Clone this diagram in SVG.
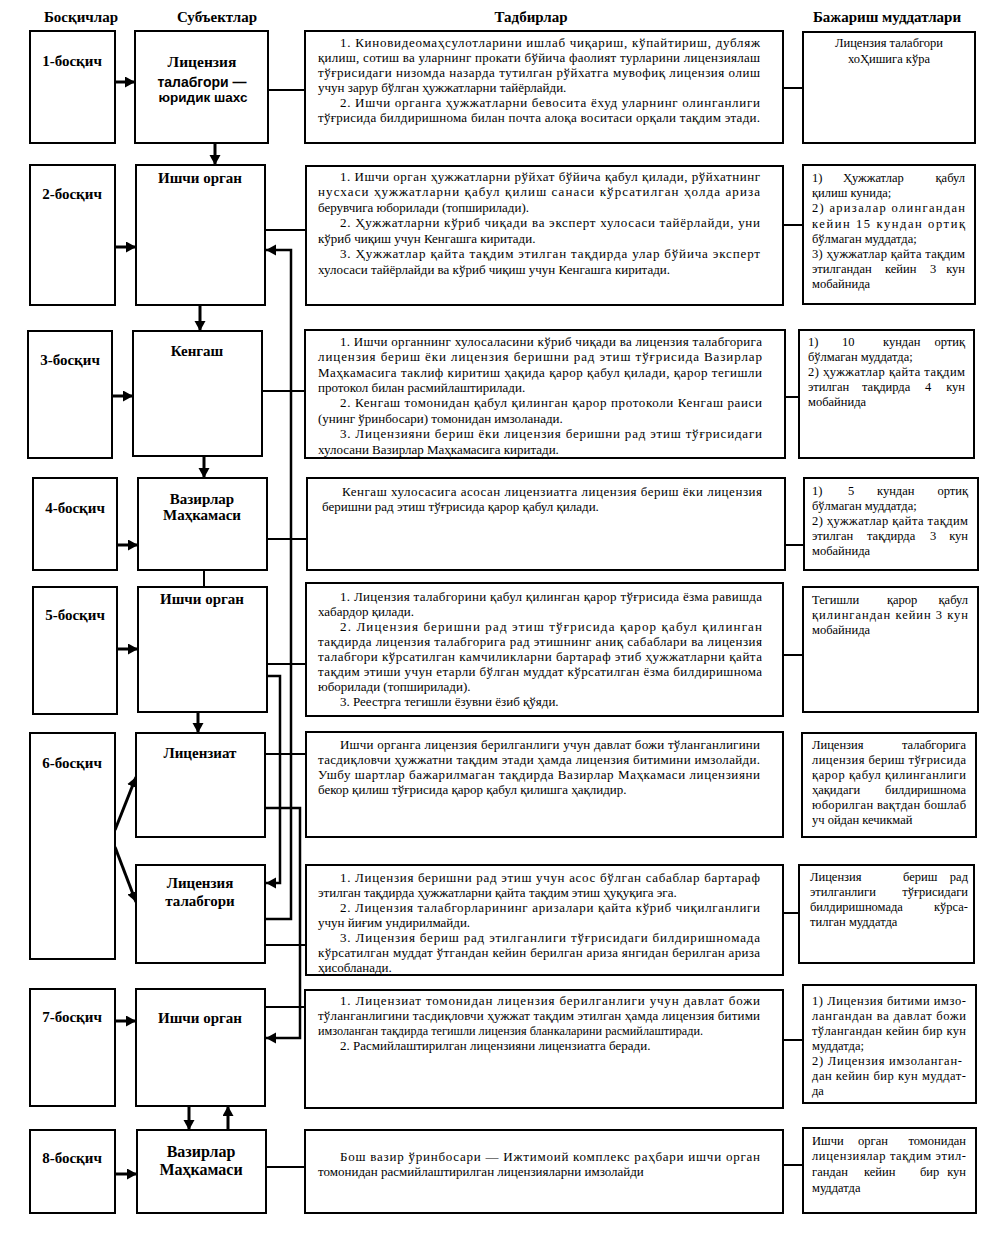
<svg xmlns="http://www.w3.org/2000/svg" width="999" height="1241" viewBox="0 0 999 1241">
<style>
.box{fill:#fff;stroke:#000;stroke-width:2}
.ln{stroke:#000;stroke-width:2;fill:none}
.ar{stroke:#000;stroke-width:3;fill:none;marker-end:url(#ah)}
.ar2{stroke:#000;stroke-width:2.5;fill:none;marker-end:url(#ah)}
.t{font-family:"Liberation Serif","Times New Roman",serif;font-size:13px;fill:#000}
.r{font-family:"Liberation Serif","Times New Roman",serif;font-size:12.5px;fill:#000}
.h{font-family:"Liberation Serif","Times New Roman",serif;font-size:15px;font-weight:bold;fill:#000;text-anchor:middle}
.s{font-family:"Liberation Sans",Arial,sans-serif;font-size:13.5px;font-weight:bold;fill:#000;text-anchor:middle}
.e{text-anchor:end}
.m{text-anchor:middle}
</style>
<defs>
<marker id="ah" markerUnits="userSpaceOnUse" markerWidth="12" markerHeight="12" refX="10" refY="5.5" orient="auto">
<path d="M0,0 L10,5.5 L0,11 z" fill="#000"/>
</marker>
</defs>
<rect width="999" height="1241" fill="#fff"/>

<g id="headers">
<text class="h" x="81" y="22">Босқичлар</text>
<text class="h" x="217" y="22">Субъектлар</text>
<text class="h" x="531" y="22">Тадбирлар</text>
<text class="h" x="887" y="22">Бажариш муддатлари</text>
</g>

<g id="connectors">
<line class="ar" x1="115" y1="82" x2="135" y2="82"/>
<line class="ar" x1="115" y1="247" x2="136" y2="247"/>
<line class="ar" x1="112" y1="396" x2="133" y2="396"/>
<line class="ar" x1="117" y1="545" x2="138" y2="545"/>
<line class="ar" x1="117" y1="649" x2="138" y2="649"/>
<line class="ar" x1="115" y1="830" x2="136" y2="777"/>
<line class="ar" x1="115" y1="847" x2="136" y2="902"/>
<line class="ar" x1="115" y1="1021" x2="136" y2="1021"/>
<line class="ar" x1="115" y1="1174" x2="137" y2="1174"/>

<line class="ar" x1="215" y1="143" x2="215" y2="165"/>
<line class="ar" x1="200" y1="305" x2="200" y2="331"/>
<line class="ar" x1="204" y1="456" x2="204" y2="478"/>
<line class="ln" x1="204" y1="570" x2="204" y2="587"/>
<line class="ar" x1="198" y1="712" x2="198" y2="733"/>
<line class="ar" x1="189" y1="1106" x2="189" y2="1130"/>
<line class="ar" x1="228" y1="1130" x2="228" y2="1106"/>

<line class="ln" x1="268" y1="90" x2="305" y2="90"/>
<line class="ln" x1="265" y1="230" x2="306" y2="230"/>
<line class="ln" x1="262" y1="391" x2="305" y2="391"/>
<line class="ln" x1="267" y1="539" x2="307" y2="539"/>
<line class="ln" x1="267" y1="664" x2="306" y2="664"/>
<line class="ln" x1="265" y1="754" x2="306" y2="754"/>
<line class="ln" x1="265" y1="945" x2="306" y2="945"/>
<line class="ln" x1="265" y1="1007" x2="305" y2="1007"/>
<line class="ln" x1="266" y1="1167" x2="305" y2="1167"/>

<line class="ln" x1="783" y1="88" x2="803" y2="88"/>
<line class="ln" x1="783" y1="225" x2="803" y2="225"/>
<line class="ln" x1="785" y1="397" x2="799" y2="397"/>
<line class="ln" x1="785" y1="545" x2="804" y2="545"/>
<line class="ln" x1="783" y1="655" x2="803" y2="655"/>
<line class="ln" x1="783" y1="913" x2="799" y2="913"/>
<line class="ln" x1="783" y1="1040" x2="803" y2="1040"/>
<line class="ln" x1="783" y1="1165" x2="803" y2="1165"/>

<polyline class="ar2" points="267,676 280,676 280,883 266,883"/>
<polyline class="ar2" points="265,919 291,919 291,250 266,250"/>
<polyline class="ar2" points="265,808 300,808 300,1038 266,1038"/>
</g>

<g id="stage1"><rect class="box" x="30" y="31" width="85" height="112"/><text class="h" x="72" y="66">1-босқич</text></g>
<g id="stage2"><rect class="box" x="30" y="165" width="85" height="140"/><text class="h" x="72" y="199">2-босқич</text></g>
<g id="stage3"><rect class="box" x="28" y="331" width="84" height="127"/><text class="h" x="70" y="365">3-босқич</text></g>
<g id="stage4"><rect class="box" x="33" y="478" width="84" height="92"/><text class="h" x="75" y="513">4-босқич</text></g>
<g id="stage5"><rect class="box" x="33" y="587" width="84" height="127"/><text class="h" x="75" y="620">5-босқич</text></g>
<g id="stage6"><rect class="box" x="30" y="733" width="85" height="226"/><text class="h" x="72" y="768">6-босқич</text></g>
<g id="stage7"><rect class="box" x="30" y="989" width="85" height="117"/><text class="h" x="72" y="1022">7-босқич</text></g>
<g id="stage8"><rect class="box" x="30" y="1130" width="85" height="83"/><text class="h" x="72" y="1163">8-босқич</text></g>

<g id="subj1"><rect class="box" x="135" y="31" width="133" height="112"/>
<text class="h" x="202" y="67" style="font-size:15.5px">Лицензия</text>
<text class="s" x="202" y="87" style="font-size:14px">талабгори —</text>
<text class="s" x="203" y="102">юридик шахс</text></g>
<g id="subj2"><rect class="box" x="136" y="165" width="129" height="140"/><text class="h" x="200" y="183">Ишчи орган</text></g>
<g id="subj3"><rect class="box" x="133" y="331" width="129" height="125"/><text class="h" x="197" y="356">Кенгаш</text></g>
<g id="subj4"><rect class="box" x="138" y="478" width="129" height="92"/><text class="h" x="202" y="504">Вазирлар</text><text class="h" x="202" y="520">Маҳкамаси</text></g>
<g id="subj5"><rect class="box" x="138" y="587" width="129" height="125"/><text class="h" x="202" y="604">Ишчи орган</text></g>
<g id="subj6a"><rect class="box" x="136" y="733" width="129" height="104"/><text class="h" x="200" y="758">Лицензиат</text></g>
<g id="subj6b"><rect class="box" x="136" y="865" width="129" height="98"/><text class="h" x="200" y="888">Лицензия</text><text class="h" x="200" y="906">талабгори</text></g>
<g id="subj7"><rect class="box" x="136" y="989" width="129" height="117"/><text class="h" x="200" y="1023">Ишчи орган</text></g>
<g id="subj8"><rect class="box" x="137" y="1130" width="129" height="83"/><text class="h" x="201" y="1157" style="font-size:16px">Вазирлар</text><text class="h" x="201" y="1175" style="font-size:16px">Маҳкамаси</text></g>

<g id="act1"><rect class="box" x="305" y="31" width="478" height="112"/>
<text class="t" x="340" y="47" textLength="420" lengthAdjust="spacing">1. Киновидеомаҳсулотларини ишлаб чиқариш, кўпайтириш, дубляж</text>
<text class="t" x="318" y="62" textLength="442" lengthAdjust="spacing">қилиш, сотиш ва уларнинг прокати бўйича фаолият турларини лицензиялаш</text>
<text class="t" x="318" y="77" textLength="442" lengthAdjust="spacing">тўғрисидаги низомда назарда тутилган рўйхатга мувофиқ лицензия олиш</text>
<text class="t" x="318" y="92">учун зарур бўлган ҳужжатларни тайёрлайди.</text>
<text class="t" x="340" y="107" textLength="420" lengthAdjust="spacing">2. Ишчи органга ҳужжатларни бевосита ёхуд уларнинг олинганлиги</text>
<text class="t" x="318" y="122" textLength="442" lengthAdjust="spacing">тўғрисида билдиришнома билан почта алоқа воситаси орқали тақдим этади.</text>
</g>

<g id="act2"><rect class="box" x="306" y="166" width="477" height="139"/>
<text class="t" x="340" y="181" textLength="420" lengthAdjust="spacing">1. Ишчи орган ҳужжатларни рўйхат бўйича қабул қилади, рўйхатнинг</text>
<text class="t" x="318" y="196" textLength="442" lengthAdjust="spacing">нусхаси ҳужжатларни қабул қилиш санаси кўрсатилган ҳолда ариза</text>
<text class="t" x="318" y="212">берувчига юборилади (топширилади).</text>
<text class="t" x="340" y="227" textLength="420" lengthAdjust="spacing">2. Ҳужжатларни кўриб чиқади ва эксперт хулосаси тайёрлайди, уни</text>
<text class="t" x="318" y="243">кўриб чиқиш учун Кенгашга киритади.</text>
<text class="t" x="340" y="258" textLength="420" lengthAdjust="spacing">3. Ҳужжатлар қайта тақдим этилган тақдирда улар бўйича эксперт</text>
<text class="t" x="318" y="274">хулосаси тайёрлайди ва кўриб чиқиш учун Кенгашга киритади.</text>
</g>

<g id="act3"><rect class="box" x="305" y="330" width="480" height="128"/>
<text class="t" x="340" y="346" textLength="422" lengthAdjust="spacing">1. Ишчи органнинг хулосаласини кўриб чиқади ва лицензия талабгорига</text>
<text class="t" x="318" y="361" textLength="444" lengthAdjust="spacing">лицензия бериш ёки лицензия беришни рад этиш тўғрисида Вазирлар</text>
<text class="t" x="318" y="377" textLength="444" lengthAdjust="spacing">Маҳкамасига таклиф киритиш ҳақида қарор қабул қилади, қарор тегишли</text>
<text class="t" x="318" y="392">протокол билан расмийлаштирилади.</text>
<text class="t" x="340" y="407" textLength="422" lengthAdjust="spacing">2. Кенгаш томонидан қабул қилинган қарор протоколи Кенгаш раиси</text>
<text class="t" x="318" y="423">(унинг ўринбосари) томонидан имзоланади.</text>
<text class="t" x="340" y="438" textLength="422" lengthAdjust="spacing">3. Лицензияни бериш ёки лицензия беришни рад этиш тўғрисидаги</text>
<text class="t" x="318" y="454">хулосани Вазирлар Маҳкамасига киритади.</text>
</g>

<g id="act4"><rect class="box" x="307" y="478" width="478" height="92"/>
<text class="t" x="342" y="496" textLength="420" lengthAdjust="spacing">Кенгаш хулосасига асосан лицензиатга лицензия бериш ёки лицензия</text>
<text class="t" x="322" y="511">беришни рад этиш тўғрисида қарор қабул қилади.</text>
</g>

<g id="act5"><rect class="box" x="306" y="583" width="477" height="133"/>
<text class="t" x="340" y="601" textLength="422" lengthAdjust="spacing">1. Лицензия талабгорини қабул қилинган қарор тўғрисида ёзма равишда</text>
<text class="t" x="318" y="616">хабардор қилади.</text>
<text class="t" x="340" y="631" textLength="422" lengthAdjust="spacing">2. Лицензия беришни рад этиш тўғрисида қарор қабул қилинган</text>
<text class="t" x="318" y="646" textLength="444" lengthAdjust="spacing">тақдирда лицензия талабгорига рад этишнинг аниқ сабаблари ва лицензия</text>
<text class="t" x="318" y="661" textLength="444" lengthAdjust="spacing">талабгори кўрсатилган камчиликларни бартараф этиб ҳужжатларни қайта</text>
<text class="t" x="318" y="676" textLength="444" lengthAdjust="spacing">тақдим этиши учун етарли бўлган муддат кўрсатилган ёзма билдиришнома</text>
<text class="t" x="318" y="691">юборилади (топширилади).</text>
<text class="t" x="340" y="706">3. Реестрга тегишли ёзувни ёзиб қўяди.</text>
</g>

<g id="act6a"><rect class="box" x="306" y="732" width="477" height="105"/>
<text class="t" x="340" y="749" textLength="420" lengthAdjust="spacing">Ишчи органга лицензия берилганлиги учун давлат божи тўланганлигини</text>
<text class="t" x="318" y="764" textLength="442" lengthAdjust="spacing">тасдиқловчи ҳужжатни тақдим этади ҳамда лицензия битимини имзолайди.</text>
<text class="t" x="318" y="779" textLength="442" lengthAdjust="spacing">Ушбу шартлар бажарилмаган тақдирда Вазирлар Маҳкамаси лицензияни</text>
<text class="t" x="318" y="794">бекор қилиш тўғрисида қарор қабул қилишга ҳақлидир.</text>
</g>

<g id="act6b"><rect class="box" x="306" y="865" width="477" height="110"/>
<text class="t" x="340" y="882" textLength="420" lengthAdjust="spacing">1. Лицензия беришни рад этиш учун асос бўлган сабаблар бартараф</text>
<text class="t" x="318" y="897">этилган тақдирда ҳужжатларни қайта тақдим этиш ҳуқуқига эга.</text>
<text class="t" x="340" y="912" textLength="420" lengthAdjust="spacing">2. Лицензия талабгорларининг аризалари қайта кўриб чиқилганлиги</text>
<text class="t" x="318" y="927">учун йиғим ундирилмайди.</text>
<text class="t" x="340" y="942" textLength="420" lengthAdjust="spacing">3. Лицензия бериш рад этилганлиги тўғрисидаги билдиришномада</text>
<text class="t" x="318" y="957" textLength="442" lengthAdjust="spacing">кўрсатилган муддат ўтгандан кейин берилган ариза янгидан берилган ариза</text>
<text class="t" x="318" y="972">ҳисобланади.</text>
</g>

<g id="act7"><rect class="box" x="305" y="990" width="478" height="118"/>
<text class="t" x="340" y="1005" textLength="420" lengthAdjust="spacing">1. Лицензиат томонидан лицензия берилганлиги учун давлат божи</text>
<text class="t" x="318" y="1020" textLength="442" lengthAdjust="spacing">тўланганлигини тасдиқловчи ҳужжат тақдим этилган ҳамда лицензия битими</text>
<text class="t" x="318" y="1035" textLength="385" lengthAdjust="spacingAndGlyphs">имзоланган тақдирда тегишли лицензия бланкаларини расмийлаштиради.</text>
<text class="t" x="340" y="1050">2. Расмийлаштирилган лицензияни лицензиатга беради.</text>
</g>

<g id="act8"><rect class="box" x="305" y="1130" width="478" height="83"/>
<text class="t" x="340" y="1161" textLength="420" lengthAdjust="spacing">Бош вазир ўринбосари — Ижтимоий комплекс раҳбари ишчи орган</text>
<text class="t" x="318" y="1176">томонидан расмийлаштирилган лицензияларни имзолайди</text>
</g>

<g id="term1"><rect class="box" x="803" y="32" width="172" height="111"/>
<text class="r m" x="889" y="47">Лицензия талабгори</text>
<text class="r m" x="889" y="63">хоҲишига кўра</text>
</g>

<g id="term2"><rect class="box" x="803" y="165" width="172" height="139"/>
<text class="r" y="182"><tspan x="812">1)</tspan><tspan x="843">Ҳужжатлар</tspan><tspan x="965" class="e">қабул</tspan></text>
<text class="r" x="812" y="197">қилиш кунида;</text>
<text class="r" x="812" y="212" textLength="153" lengthAdjust="spacing">2) аризалар олингандан</text>
<text class="r" x="812" y="228" textLength="153" lengthAdjust="spacing">кейин 15 кундан ортиқ</text>
<text class="r" x="812" y="243">бўлмаган муддатда;</text>
<text class="r" x="812" y="258" textLength="153" lengthAdjust="spacing">3) ҳужжатлар қайта тақдим</text>
<text class="r" y="273"><tspan x="812">этилгандан</tspan><tspan x="885">кейин</tspan><tspan x="930">3</tspan><tspan x="965" class="e">кун</tspan></text>
<text class="r" x="812" y="288">мобайнида</text>
</g>

<g id="term3"><rect class="box" x="799" y="330" width="175" height="128"/>
<text class="r" y="346"><tspan x="808">1)</tspan><tspan x="842">10</tspan><tspan x="883">кундан</tspan><tspan x="965" class="e">ортиқ</tspan></text>
<text class="r" x="808" y="361">бўлмаган муддатда;</text>
<text class="r" x="808" y="376" textLength="157" lengthAdjust="spacing">2) ҳужжатлар қайта тақдим</text>
<text class="r" y="391"><tspan x="808">этилган</tspan><tspan x="862">тақдирда</tspan><tspan x="925">4</tspan><tspan x="965" class="e">кун</tspan></text>
<text class="r" x="808" y="406">мобайнида</text>
</g>

<g id="term4"><rect class="box" x="804" y="478" width="174" height="92"/>
<text class="r" y="495"><tspan x="812">1)</tspan><tspan x="848">5</tspan><tspan x="877">кундан</tspan><tspan x="968" class="e">ортиқ</tspan></text>
<text class="r" x="812" y="510">бўлмаган муддатда;</text>
<text class="r" x="812" y="525" textLength="156" lengthAdjust="spacing">2) ҳужжатлар қайта тақдим</text>
<text class="r" y="540"><tspan x="812">этилган</tspan><tspan x="867">тақдирда</tspan><tspan x="930">3</tspan><tspan x="968" class="e">кун</tspan></text>
<text class="r" x="812" y="555">мобайнида</text>
</g>

<g id="term5"><rect class="box" x="803" y="587" width="175" height="125"/>
<text class="r" y="604"><tspan x="812">Тегишли</tspan><tspan x="887">қарор</tspan><tspan x="968" class="e">қабул</tspan></text>
<text class="r" x="812" y="619" textLength="156" lengthAdjust="spacing">қилингандан кейин 3 кун</text>
<text class="r" x="812" y="634">мобайнида</text>
</g>

<g id="term6a"><rect class="box" x="802" y="733" width="174" height="104"/>
<text class="r" y="749"><tspan x="812">Лицензия</tspan><tspan x="966" class="e">талабгорига</tspan></text>
<text class="r" x="812" y="764" textLength="154" lengthAdjust="spacing">лицензия бериш тўғрисида</text>
<text class="r" x="812" y="779" textLength="154" lengthAdjust="spacing">қарор қабул қилинганлиги</text>
<text class="r" y="794"><tspan x="812">ҳақидаги</tspan><tspan x="966" class="e">билдиришнома</tspan></text>
<text class="r" x="812" y="809" textLength="154" lengthAdjust="spacing">юборилган вақтдан бошлаб</text>
<text class="r" x="812" y="824">уч ойдан кечикмай</text>
</g>

<g id="term6b"><rect class="box" x="799" y="865" width="175" height="98"/>
<text class="r" y="881"><tspan x="810">Лицензия</tspan><tspan x="903">бериш</tspan><tspan x="968" class="e">рад</tspan></text>
<text class="r" y="896"><tspan x="810">этилганлиги</tspan><tspan x="968" class="e">тўғрисидаги</tspan></text>
<text class="r" y="911"><tspan x="810">билдиришномада</tspan><tspan x="968" class="e">кўрса-</tspan></text>
<text class="r" x="810" y="926">тилган муддатда</text>
</g>

<g id="term7"><rect class="box" x="803" y="985" width="173" height="118"/>
<text class="r" x="812" y="1005" textLength="154" lengthAdjust="spacing">1) Лицензия битими имзо-</text>
<text class="r" x="812" y="1020" textLength="154" lengthAdjust="spacing">лангандан ва давлат божи</text>
<text class="r" x="812" y="1035" textLength="154" lengthAdjust="spacing">тўлангандан кейин бир кун</text>
<text class="r" x="812" y="1050">муддатда;</text>
<text class="r" x="812" y="1065" textLength="150" lengthAdjust="spacing">2) Лицензия имзоланган-</text>
<text class="r" x="812" y="1080" textLength="154" lengthAdjust="spacing">дан кейин бир кун муддат-</text>
<text class="r" x="812" y="1095">да</text>
</g>

<g id="term8"><rect class="box" x="803" y="1128" width="173" height="85"/>
<text class="r" y="1145"><tspan x="812">Ишчи</tspan><tspan x="858">орган</tspan><tspan x="966" class="e">томонидан</tspan></text>
<text class="r" x="812" y="1160" textLength="154" lengthAdjust="spacing">лицензиялар тақдим этил-</text>
<text class="r" y="1176"><tspan x="812">гандан</tspan><tspan x="864">кейин</tspan><tspan x="920">бир</tspan><tspan x="966" class="e">кун</tspan></text>
<text class="r" x="812" y="1192">муддатда</text>
</g>
</svg>
